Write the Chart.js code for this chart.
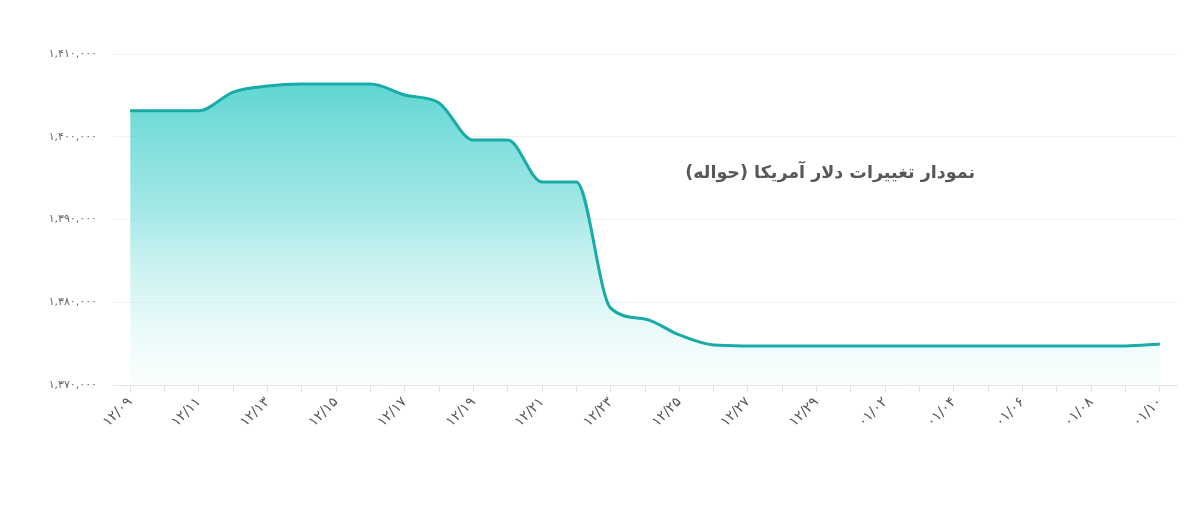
<!DOCTYPE html>
<html>
<head>
<meta charset="utf-8">
<script src="https://cdn.jsdelivr.net/npm/chart.js@4/dist/chart.umd.min.js"></script>
<style>
  html, body { margin: 0; padding: 0; background: #fff; }
  #wrap { position: relative; width: 1200px; height: 516px; }
  #title {
    position: absolute; right: 225px; top: 162px;
    font-family: "DejaVu Sans", sans-serif; font-weight: bold; font-size: 17.5px;
    color: #575757; direction: rtl; white-space: nowrap; letter-spacing: -0.3px;
  }
</style>
</head>
<body>
<div id="wrap">
  <canvas id="c" width="1200" height="516"></canvas>
  <div id="title">نمودار تغییرات دلار آمریکا (حواله)</div>
</div>
<script>
const dates = ["12/09","12/10","12/11","12/12","12/13","12/14","12/15","12/16","12/17","12/18",
  "12/19","12/20","12/21","12/22","12/23","12/24","12/25","12/26","12/27","12/28","12/29",
  "01/01","01/02","01/03","01/04","01/05","01/06","01/07","01/08","01/09","01/10"];
const rates = [1403150,1403150,1403150,1405400,1406130,1406370,1406370,1406370,1405050,1404080,
  1399600,1399600,1394530,1394530,1379300,1377980,1376050,1374830,1374720,1374700,1374700,
  1374700,1374700,1374700,1374700,1374700,1374700,1374700,1374700,1374720,1374950];
const yTicks = [1370000,1380000,1390000,1400000,1410000];

const faDigits = "۰۱۲۳۴۵۶۷۸۹";
function toFa(s){ return String(s).replace(/[0-9]/g, d => faDigits[+d]); }
function fmt(n){ return toFa(n.toString().replace(/\B(?=(\d{3})+(?!\d))/g, ",")); }

const ctx = document.getElementById('c').getContext('2d');
new Chart(ctx, {
  type: 'line',
  data: {
    labels: dates.map(toFa),
    datasets: [{
      data: rates,
      borderColor: '#18aba7',
      borderWidth: 3,
      pointRadius: 0,
      cubicInterpolationMode: 'monotone',
      fill: 'start',
      backgroundColor: (c) => {
        const ca = c.chart.chartArea;
        if (!ca) return 'rgba(80,210,206,0.6)';
        const g = c.chart.ctx.createLinearGradient(0, ca.top, 0, ca.bottom);
        g.addColorStop(0, 'rgba(68,206,202,0.95)');
        g.addColorStop(0.45, 'rgba(118,221,218,0.7)');
        g.addColorStop(1, 'rgba(205,244,243,0.1)');
        return g;
      }
    }]
  },
  options: {
    responsive: false,
    animation: false,
    layout: { padding: { top: 54, right: 23, left: 0, bottom: 0 } },
    plugins: { legend: { display: false }, tooltip: { enabled: false } },
    scales: {
      x: {
        offset: true,
        grid: { display: true, drawOnChartArea: false, drawTicks: true, tickLength: 7, color: '#e4e4e4' },
        border: { display: true, color: '#e4e4e4' },
        ticks: {
          autoSkip: false, minRotation: 45, maxRotation: 45, padding: 2,
          color: '#555', font: { family: 'DejaVu Sans', size: 14 },
          callback: function(v, i){ return i % 2 === 0 ? this.getLabelForValue(v) : ''; }
        },
        afterFit: (s) => { s.height = 131; }
      },
      y: {
        min: 1370000, max: 1410000,
        afterBuildTicks: (s) => { s.ticks = yTicks.map(v => ({ value: v })); },
        grid: { color: '#f1f1f1', drawTicks: false },
        border: { display: false },
        ticks: { padding: 16, color: '#666', font: { family: 'DejaVu Sans', size: 11 }, callback: (v) => fmt(v) },
        afterFit: (s) => { s.width = 113; }
      }
    }
  }
});
</script>
</body>
</html>
